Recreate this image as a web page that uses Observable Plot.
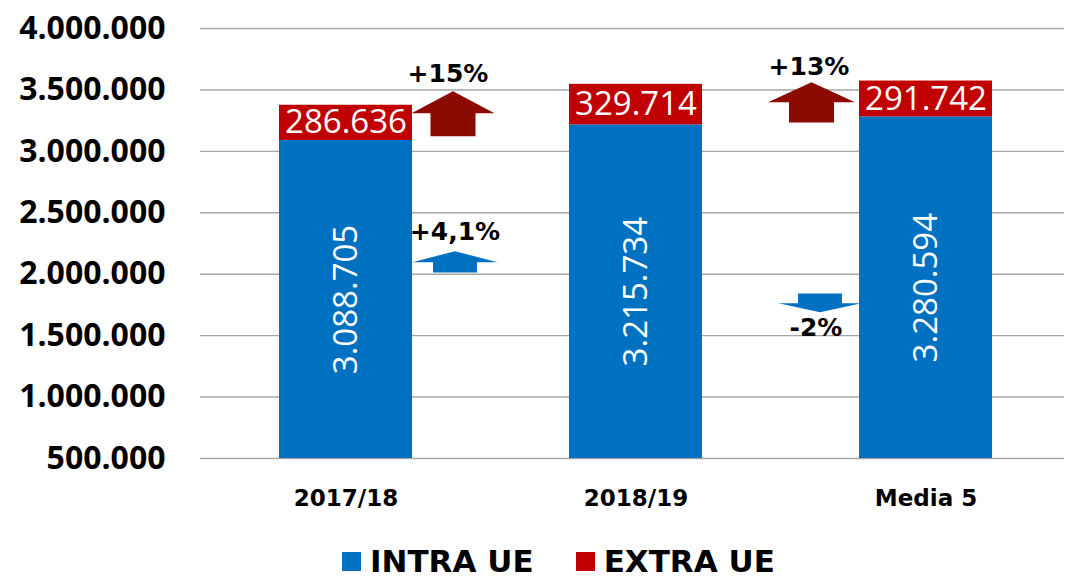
<!DOCTYPE html>
<html>
<head>
<meta charset="utf-8">
<script src="https://cdn.jsdelivr.net/npm/d3@7"></script>
<script src="https://cdn.jsdelivr.net/npm/@observablehq/plot@0.6"></script>
<style>
  html, body { margin: 0; padding: 0; background: #fff; }
  #wrap { width: 1066px; height: 579px; overflow: hidden; }
  #legend { height: 59px; box-sizing: border-box; padding-top: 24px; padding-left: 342px;
            display: flex; align-items: center; font-family: "DejaVu Sans", sans-serif;
            font-weight: bold; font-size: 31px; line-height: 1; color: #000; }
  .sw { width: 19px; height: 19px; margin-right: 9px; flex: none; }
  .item { display: flex; align-items: center; margin-right: 42px; }
  .item span { line-height: 1.1; }
</style>
</head>
<body>
<div id="wrap"></div>
<script>
// ---- data ----
const categories = ["2017/18", "2018/19", "Media 5"];
const seriesNames = ["INTRA UE", "EXTRA UE"];
const seriesColors = ["#0070C0", "#C00000"];
const intraUE = [3088705, 3215734, 3280594];
const extraUE = [286636, 329714, 291742];
const yTicks = [500000, 1000000, 1500000, 2000000, 2500000, 3000000, 3500000, 4000000];

// change annotations (arrow + label)
const changeLabels = ["+15%", "+13%", "+4,1%", "-2%"];
const changeCategory = ["2017/18", "Media 5", "2017/18", "Media 5"];
const changeValue = [3310000, 3400000, 2098000, 1764000];
const changeDirection = ["up", "up", "up", "down"];
const changeSeries = ["EXTRA UE", "EXTRA UE", "INTRA UE", "INTRA UE"];

// ---- styling / geometry of annotations ----
const arrowColor = {"EXTRA UE": "#8B0B02", "INTRA UE": "#0070C0"};
const arrowGeom = [
  {dx: 107, headH: 22, shaftH: 23, hw: 41.5, sw: 22.5, tdx: -5, tdy: -39},
  {dx: -114.5, headH: 20, shaftH: 20.3, hw: 43.5, sw: 22.5, tdx: -2.5, tdy: -35},
  {dx: 109, headH: 11, shaftH: 10.3, hw: 42.5, sw: 22, tdx: 0, tdy: -30},
  {dx: -106, headH: 9, shaftH: 9.7, hw: 41.5, sw: 22, tdx: -4, tdy: 25}
];

function arrowSymbol(g, dir) {
  const s = dir === "up" ? 1 : -1;
  return {
    draw(ctx) {
      ctx.moveTo(0, -g.headH * s);
      ctx.lineTo(g.hw, 0);
      ctx.lineTo(g.sw, 0);
      ctx.lineTo(g.sw, g.shaftH * s);
      ctx.lineTo(-g.sw, g.shaftH * s);
      ctx.lineTo(-g.sw, 0);
      ctx.lineTo(-g.hw, 0);
      ctx.closePath();
    }
  };
}

const fmt = d3.formatLocale({decimal: ",", thousands: ".", grouping: [3], currency: ["", ""]}).format(",d");
const base = yTicks[0];

const segs = [];
categories.forEach((c, i) => {
  segs.push({cat: c, series: seriesNames[0], y1: base, y2: intraUE[i], value: intraUE[i]});
  segs.push({cat: c, series: seriesNames[1], y1: intraUE[i], y2: intraUE[i] + extraUE[i], value: extraUE[i]});
});

const changes = changeLabels.map((t, i) => ({
  label: t, cat: changeCategory[i], value: changeValue[i],
  dir: changeDirection[i], series: changeSeries[i], g: arrowGeom[i]
}));

const marks = [
  Plot.ruleY(yTicks, {stroke: "#A6A6A6", strokeWidth: 1.4, strokeOpacity: 1}),
  Plot.text(yTicks, {y: d => d, text: d => fmt(d), frameAnchor: "left", dx: -35, textAnchor: "end",
    fontSize: 32, fontWeight: 700, fontFamily: "Open Sans", fill: "#000"}),
  Plot.text(categories, {x: d => d, text: d => d, frameAnchor: "bottom", dy: 40, lineAnchor: "middle",
    fontSize: 23, fontWeight: 700, fontFamily: "DejaVu Sans", fill: "#000"}),
  Plot.barY(segs, {x: "cat", y1: "y1", y2: "y2", fill: "series"}),
  Plot.text(segs.filter(d => d.series === seriesNames[0]), {x: "cat", y: d => (d.y1 + d.y2) / 2,
    text: d => fmt(d.value), rotate: -90, fill: "white", fontSize: 33, fontFamily: "Open Sans"}),
  Plot.text(segs.filter(d => d.series === seriesNames[1]), {x: "cat", y: d => (d.y1 + d.y2) / 2,
    text: d => fmt(d.value), fill: "white", fontSize: 33, fontFamily: "Open Sans"})
];

changes.forEach(c => {
  marks.push(Plot.dot([c], {x: "cat", y: "value", r: 10, symbol: arrowSymbol(c.g, c.dir),
    fill: arrowColor[c.series], stroke: "none", dx: c.g.dx}));
  marks.push(Plot.text([c], {x: "cat", y: "value", text: "label", dx: c.g.dx + c.g.tdx, dy: c.g.tdy,
    fontSize: 25, fontWeight: 700, fontFamily: "DejaVu Sans", fill: "#000"}));
});

const chart = Plot.plot({
  width: 1066,
  height: 520,
  marginTop: 28,
  marginBottom: 62,
  marginLeft: 200,
  marginRight: 2,
  x: {domain: categories, range: [201, 1071], paddingInner: 0.54, paddingOuter: 0.27, axis: null},
  y: {domain: [yTicks[0], yTicks[yTicks.length - 1]], axis: null},
  color: {domain: seriesNames, range: seriesColors},
  style: {background: "white", overflow: "visible"},
  marks
});

const wrap = document.getElementById("wrap");
wrap.appendChild(chart);

const legend = document.createElement("div");
legend.id = "legend";
seriesNames.forEach((n, i) => {
  const item = document.createElement("div");
  item.className = "item";
  const sw = document.createElement("div");
  sw.className = "sw";
  sw.style.background = seriesColors[i];
  const t = document.createElement("span");
  t.textContent = n;
  item.appendChild(sw);
  item.appendChild(t);
  legend.appendChild(item);
});
wrap.appendChild(legend);
</script>
</body>
</html>
